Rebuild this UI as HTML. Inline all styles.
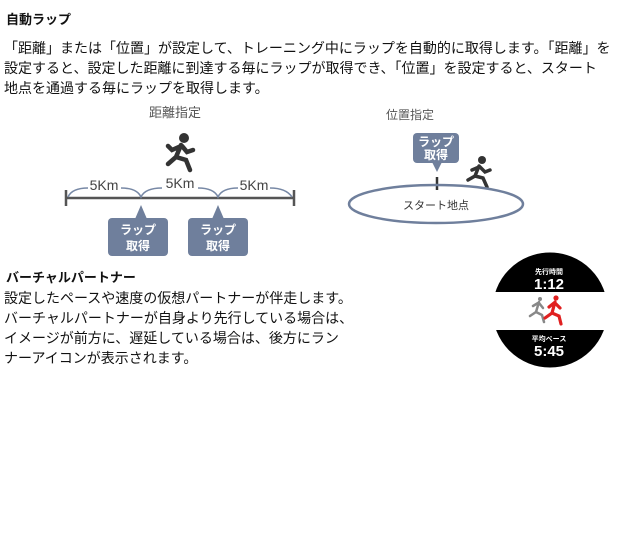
<!DOCTYPE html>
<html><head><meta charset="utf-8"><style>
body{margin:0;width:640px;height:560px;background:#fff;font-family:"Liberation Sans","Noto Sans CJK JP",sans-serif;color:#111;position:relative;overflow:hidden}
.t{position:absolute;white-space:nowrap}
</style></head><body>
<div class="t" style="left:6px;top:9px;font-size:13px;font-weight:bold">自動ラップ</div>
<div class="t" style="left:4px;top:38px;font-size:14px;line-height:20px">「距離」または「位置」が設定して、トレーニング中にラップを自動的に取得します。「距離」を<br>設定すると、設定した距離に到達する毎にラップが取得でき、「位置」を設定すると、スタート<br>地点を通過する毎にラップを取得します。</div>

<svg width="640" height="560" style="position:absolute;left:0;top:0" font-family="Liberation Sans, Noto Sans CJK JP, sans-serif">
<text x="175" y="117" font-size="13" fill="#555" text-anchor="middle">距離指定</text>
<g stroke="#555" stroke-width="2.5"><line x1="66" y1="198" x2="294" y2="198"/><line x1="66" y1="190" x2="66" y2="206"/><line x1="294" y1="190" x2="294" y2="206"/></g>
<g stroke="#7788a5" stroke-width="1.6" fill="none">
<path d="M68 197 Q72 188 88 188"/><path d="M121 188 Q137 188 141 197 Q145 188 162 188"/>
<path d="M198 188 Q214 188 218 197 Q222 188 238 188"/><path d="M270 188 Q286 188 292 197"/>
</g>
<g font-size="14" fill="#444" text-anchor="middle"><text x="104" y="190">5Km</text><text x="180" y="188">5Km</text><text x="254" y="190">5Km</text></g>
<g fill="#6f7f9c">
<rect x="108" y="218" width="60" height="38" rx="4"/><path d="M135 219 L141 205 L147 219Z"/>
<rect x="188" y="218" width="60" height="38" rx="4"/><path d="M212 219 L218 205 L224 219Z"/>
<rect x="413" y="133" width="46" height="30" rx="4"/><path d="M432 162 L437 172 L442 162Z"/>
</g>
<g fill="#fff" font-size="12" text-anchor="middle" font-weight="bold">
<text x="138" y="234">ラップ</text><text x="138" y="250">取得</text>
<text x="218" y="234">ラップ</text><text x="218" y="250">取得</text>
<text x="436" y="146">ラップ</text><text x="436" y="159">取得</text>
</g>
<g fill="#333" stroke="#333" stroke-linecap="round">
<circle cx="184" cy="138" r="5" stroke="none"/>
<path d="M181 145 L176 157 L168 164 M176 157 L186 160 L190 170 M181 146 L172 150 L168 146 M182 146 L187 152 L193 150" fill="none" stroke-width="4.5"/>
<circle cx="482" cy="160" r="4" stroke="none"/>
<path d="M479 166 L475 176 L468 180 M475 176 L483 178 L487 187 M479 167 L472 170 M480 167 L485 172 L490 170" fill="none" stroke-width="3.5"/>
</g>
<text x="410" y="119" font-size="12" fill="#555" text-anchor="middle">位置指定</text>
<line x1="437" y1="177" x2="437" y2="190" stroke="#333" stroke-width="2.5"/>
<ellipse cx="436" cy="204" rx="87" ry="19" fill="none" stroke="#6f7f9c" stroke-width="2.5"/>
<text x="436" y="209" font-size="11" fill="#333" text-anchor="middle">スタート地点</text>

<circle cx="550" cy="310" r="58" fill="#000"/>
<rect x="490" y="292" width="120" height="38" fill="#fff"/>
<circle cx="550" cy="310" r="58" fill="none" stroke="#fff" stroke-width="1"/>
<g fill="#fff" text-anchor="middle" font-weight="bold">
<text x="549" y="274" font-size="7">先行時間</text><text x="549" y="289" font-size="15">1:12</text>
<text x="549" y="341" font-size="7">平均ペース</text><text x="549" y="356" font-size="15">5:45</text>
</g>
<g stroke-linecap="round" fill="none">
<path d="M539 302 L536 312 L530 316 M536 312 L542 315 L544 322 M538 303 L533 306 M539 303 L543 308" stroke="#888" stroke-width="2.5"/>
<circle cx="540" cy="299" r="2" fill="#888"/>
<path d="M555 302 L552 313 L545 318 M552 313 L559 316 L561 324 M554 303 L549 307 M555 303 L560 308" stroke="#e02020" stroke-width="3.2"/>
<circle cx="556" cy="298" r="2.6" fill="#e02020"/>
</g>
</svg>

<div class="t" style="left:6px;top:267px;font-size:13px;font-weight:bold">バーチャルパートナー</div>
<div class="t" style="left:4px;top:288px;font-size:14px;line-height:20px">設定したペースや速度の仮想パートナーが伴走します。<br>バーチャルパートナーが自身より先行している場合は、<br>イメージが前方に、遅延している場合は、後方にラン<br>ナーアイコンが表示されます。</div>
</body></html>
